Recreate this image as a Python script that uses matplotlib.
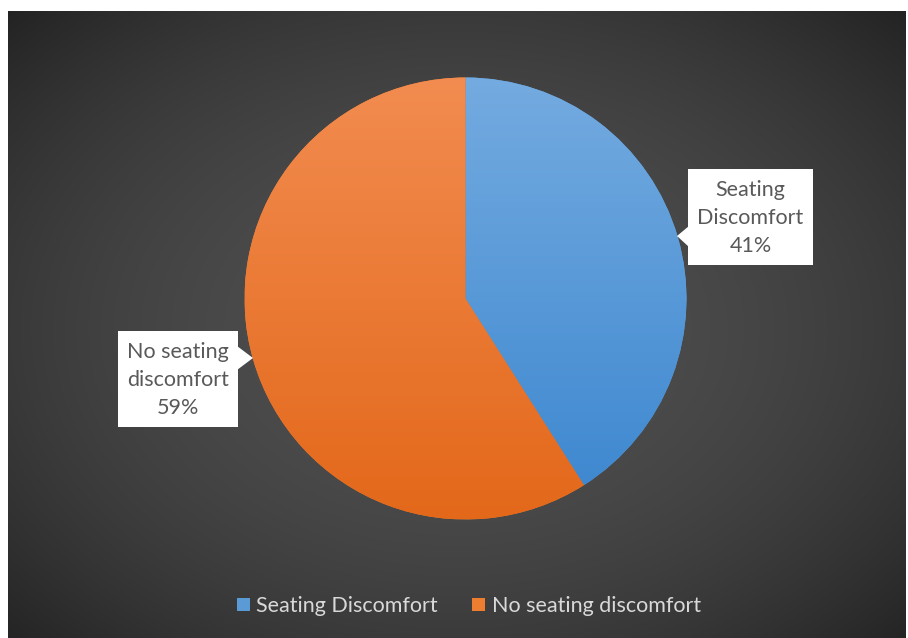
import numpy as np
import matplotlib
matplotlib.use("Agg")
import matplotlib.pyplot as plt
from matplotlib.patches import Polygon, Rectangle
from matplotlib.colors import LinearSegmentedColormap

plt.rcParams['font.family'] = ['Lato', 'DejaVu Sans']

categories = ["Seating Discomfort", "No seating discomfort"]
box_labels = ["Seating\nDiscomfort", "No seating\ndiscomfort"]
values = [41, 59]
top_colors = ["#74abe0", "#f28c50"]
bottom_colors = ["#3b86cf", "#e3681a"]
mid_colors = ["#5b9bd5", "#ed7d31"]

W, H = 908, 638
fig = plt.figure(figsize=(W / 100, H / 100), dpi=100)
fig.patch.set_facecolor("white")
ax = fig.add_axes([0, 0, 1, 1])
ax.set_xlim(0, W)
ax.set_ylim(0, H)
ax.set_aspect("equal")
ax.axis("off")

# background radial gradient (dark area from x=8..906, y=11..638 in image coords)
x0, x1, ytop, ybot = 8, 906, 11, 638
xs = np.linspace(x0, x1, 450)
ys = np.linspace(ytop, ybot, 320)
X, Y = np.meshgrid(xs, ys)
r = np.sqrt(((X - 458) / 460) ** 2 + ((Y - 330) / 330) ** 2)
t = np.clip((r / 1.41) ** 2, 0, 1)
val = (79 - 46 * t) / 255.0
img = np.dstack([val, val, val])
ax.imshow(img, extent=(x0, x1, H - ybot, H - ytop), origin="upper",
          interpolation="bilinear", zorder=0, aspect="auto")

# pie
cx, cy, R = 465.5, H - 298.5, 221
wedges, _ = ax.pie(values, center=(cx, cy), radius=R, startangle=90,
                   counterclock=False, colors=mid_colors,
                   wedgeprops=dict(linewidth=0), frame=True)
ax.set_xlim(0, W)
ax.set_ylim(0, H)
ax.axis("off")
for w, ct, cb in zip(wedges, top_colors, bottom_colors):
    w.set_zorder(2)
    cmap = LinearSegmentedColormap.from_list("g", [cb, ct])
    grad = np.linspace(0, 1, 256).reshape(-1, 1)
    im = ax.imshow(grad, cmap=cmap, extent=(cx - R, cx + R, cy - R, cy + R),
                   origin="lower", aspect="auto", zorder=3, interpolation="bilinear")
    im.set_clip_path(w)

# callout boxes (image coords converted)
def callout(text, bx0, bx1, by0, by1, ptr, tip):
    ax.add_patch(Rectangle((bx0, H - by1), bx1 - bx0, by1 - by0,
                           facecolor="white", edgecolor="none", zorder=5))
    pts = [(p[0], H - p[1]) for p in ptr] + [(tip[0], H - tip[1])]
    ax.add_patch(Polygon(pts, closed=True, facecolor="white",
                         edgecolor="none", zorder=5))
    ax.text((bx0 + bx1) / 2, H - (by0 + by1) / 2 - 1, text, ha="center",
            va="center", fontsize=15.5, color="#595959", zorder=6,
            linespacing=1.5)

total = sum(values)
pcts = [f"{round(v / total * 100)}%" for v in values]
callout(box_labels[0] + "\n" + pcts[0], 688, 813, 169, 265,
        [(689, 226), (689, 247)], (677, 236))
callout(box_labels[1] + "\n" + pcts[1], 118, 238, 331, 427,
        [(237, 346), (237, 370)], (253, 358))

# legend
leg = ax.legend(wedges, categories, loc="center", bbox_to_anchor=(469 / W, 1 - 606 / H),
                ncol=2, frameon=False, fontsize=15.5, labelcolor="#d9d9d9",
                handlelength=0.6, handleheight=0.6, handletextpad=0.3,
                columnspacing=1.6, bbox_transform=fig.transFigure)
for h, c in zip(leg.legend_handles, mid_colors):
    h.set_facecolor(c)

fig.savefig("out.png", dpi=100, facecolor="white")
